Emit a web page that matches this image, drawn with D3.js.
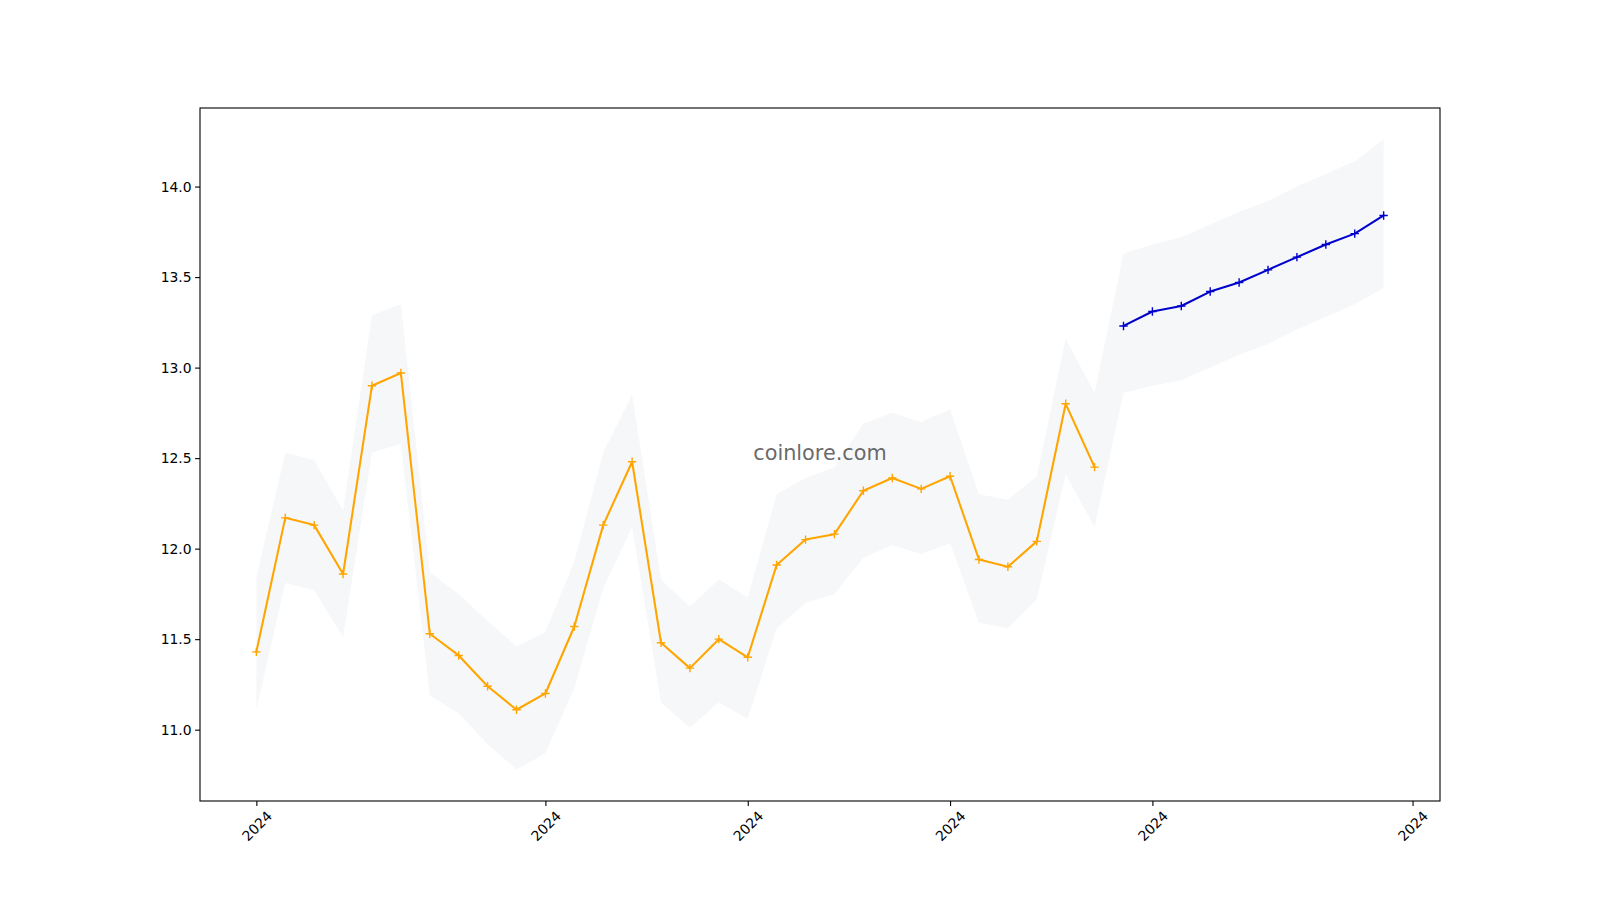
<!DOCTYPE html>
<html>
<head>
<meta charset="utf-8">
<script src="https://cdn.jsdelivr.net/npm/d3@7"></script>
<style>
  html, body { margin: 0; padding: 0; background: #fff; }
  svg { display: block; }
  text { font-family: "DejaVu Sans", sans-serif; }
</style>
</head>
<body>
<svg id="chart" width="1600" height="900"></svg>
<script>
// ---- data ----
const historyValues = [11.43, 12.17, 12.13, 11.86, 12.90, 12.97, 11.53, 11.41, 11.24, 11.11,
                       11.20, 11.57, 12.13, 12.48, 11.48, 11.34, 11.50, 11.40, 11.91, 12.05,
                       12.08, 12.32, 12.39, 12.33, 12.40, 11.94, 11.90, 12.04, 12.80, 12.45];
const forecastValues = [13.23, 13.31, 13.34, 13.42, 13.47, 13.54, 13.61, 13.68, 13.74, 13.84];
const bandUpper = [11.84, 12.53, 12.49, 12.21, 13.29, 13.35, 11.87, 11.75, 11.60, 11.46,
                   11.54, 11.93, 12.53, 12.85, 11.83, 11.68, 11.83, 11.73, 12.30, 12.39,
                   12.45, 12.69, 12.75, 12.70, 12.77, 12.30, 12.27, 12.40, 13.16, 12.86,
                   13.63, 13.68, 13.72, 13.79, 13.86, 13.92, 14.00, 14.07, 14.14, 14.26];
const bandLower = [11.11, 11.81, 11.77, 11.51, 12.53, 12.58, 11.19, 11.09, 10.92, 10.78,
                   10.87, 11.23, 11.78, 12.12, 11.15, 11.01, 11.15, 11.06, 11.56, 11.70,
                   11.75, 11.95, 12.02, 11.97, 12.03, 11.59, 11.56, 11.72, 12.41, 12.12,
                   12.86, 12.90, 12.93, 13.00, 13.07, 13.13, 13.21, 13.28, 13.35, 13.44];
const xTickPositions = [0, 10, 17, 24, 31, 40];
const xTickLabels = ["2024", "2024", "2024", "2024", "2024", "2024"];
const yTickValues = [11.0, 11.5, 12.0, 12.5, 13.0, 13.5, 14.0];
const watermark = "coinlore.com";

// ---- layout ----
const W = 1600, H = 900;
const mLeft = 200, mRight = 1440, mTop = 108, mBottom = 801;
const svg = d3.select("#chart");

const nAll = bandUpper.length;
const historyPts = historyValues.map((v, i) => ({ i: i, v: v }));
const forecastPts = forecastValues.map((v, k) => ({ i: historyValues.length + k, v: v }));
const bandPts = bandUpper.map((u, i) => ({ i: i, u: u, l: bandLower[i] }));

const xMin = 0, xMax = nAll - 1;
const xm = (xMax - xMin) * 0.05;
const x = d3.scaleLinear().domain([xMin - xm, xMax + xm]).range([mLeft, mRight]);

const allY = bandUpper.concat(bandLower, historyValues, forecastValues);
const yMin = d3.min(allY), yMax = d3.max(allY);
const ym = (yMax - yMin) * 0.05;
const y = d3.scaleLinear().domain([yMin - ym, yMax + ym]).range([mBottom, mTop]);

// clip
svg.append("defs").append("clipPath").attr("id", "clip")
  .append("rect").attr("x", mLeft).attr("y", mTop).attr("width", mRight - mLeft).attr("height", mBottom - mTop);

const plot = svg.append("g").attr("clip-path", "url(#clip)");

// band
plot.append("path")
  .datum(bandPts)
  .attr("fill", "#f6f7f9")
  .attr("stroke", "none")
  .attr("d", d3.area().x(d => x(d.i)).y0(d => y(d.l)).y1(d => y(d.u)));

// watermark
svg.append("text")
  .attr("x", (mLeft + mRight) / 2)
  .attr("y", (mTop + mBottom) / 2 - 2)
  .attr("text-anchor", "middle")
  .attr("dominant-baseline", "central")
  .attr("font-size", "20.8px")
  .attr("fill", "#555")
  .attr("fill-opacity", 0.9)
  .text(watermark);

const line = d3.line().x(d => x(d.i)).y(d => y(d.v));

function drawSeries(pts, color) {
  plot.append("path")
    .datum(pts)
    .attr("fill", "none")
    .attr("stroke", color)
    .attr("stroke-width", 2.08)
    .attr("stroke-linejoin", "round")
    .attr("stroke-linecap", "square")
    .attr("d", line);
  const ms = 4.2;
  plot.append("g").selectAll("path")
    .data(pts)
    .join("path")
    .attr("d", d => {
      const cx = x(d.i), cy = y(d.v);
      return `M${cx - ms},${cy}H${cx + ms}M${cx},${cy - ms}V${cy + ms}`;
    })
    .attr("stroke", color)
    .attr("stroke-width", 1.39)
    .attr("fill", "none");
}
drawSeries(historyPts, "#FFA500");
drawSeries(forecastPts, "#0000CD");

// axes
const yAxis = d3.axisLeft(y).tickValues(yTickValues).tickFormat(d3.format(".1f"))
  .tickSize(4.9).tickPadding(3.5);
const gy = svg.append("g").attr("transform", `translate(${mLeft},0)`).call(yAxis);
gy.select(".domain").remove();
gy.selectAll(".tick line").attr("stroke", "#000").attr("stroke-width", 1.1);
gy.selectAll(".tick text").attr("font-size", "13.9px").attr("fill", "#000")
  .attr("font-family", "DejaVu Sans, sans-serif");

const xAxis = d3.axisBottom(x).tickValues(xTickPositions)
  .tickFormat((d, i) => xTickLabels[i]).tickSize(4.9);
const gx = svg.append("g").attr("transform", `translate(0,${mBottom})`).call(xAxis);
gx.select(".domain").remove();
gx.selectAll(".tick line").attr("stroke", "#000").attr("stroke-width", 1.1);
gx.selectAll(".tick text")
  .attr("font-size", "13.9px").attr("fill", "#000")
  .attr("font-family", "DejaVu Sans, sans-serif")
  .attr("x", 0).attr("y", 0).attr("dy", null)
  .attr("text-anchor", "middle")
  .attr("dominant-baseline", "central")
  .attr("transform", "translate(0,25) rotate(-45)");

// frame
svg.append("rect")
  .attr("x", mLeft).attr("y", mTop)
  .attr("width", mRight - mLeft).attr("height", mBottom - mTop)
  .attr("fill", "none").attr("stroke", "#000").attr("stroke-width", 1.1);
</script>
</body>
</html>
